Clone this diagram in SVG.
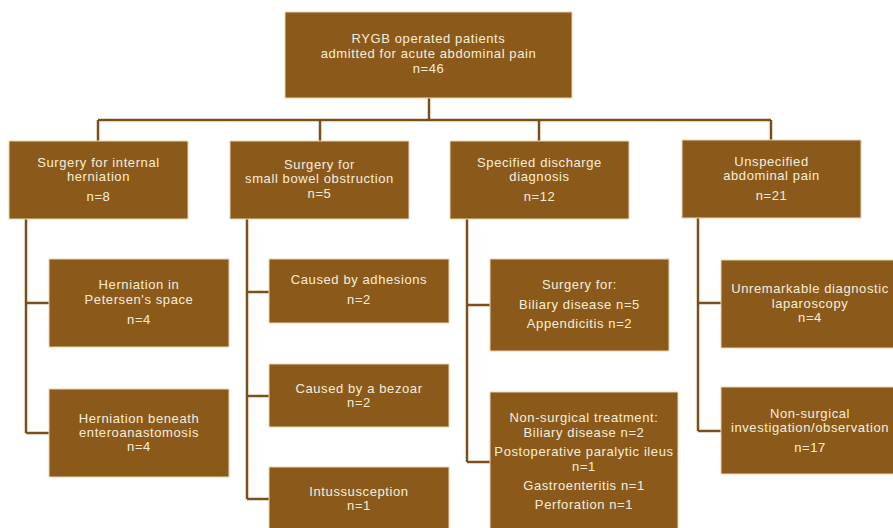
<svg xmlns="http://www.w3.org/2000/svg" width="893" height="528" viewBox="0 0 893 528">
<style>
.box{fill:#8b5a1a;stroke:#e6d6b4;stroke-width:1}
.t{font-family:"Liberation Sans",Arial,sans-serif;font-size:13px;letter-spacing:0.6px;fill:#f6eedc;text-anchor:middle}
.c{fill:none;stroke:#7b4f18;stroke-width:2.5}
</style>
<rect width="893" height="528" fill="#ffffff"/>
<g id="connectors">
<path class="c" d="M429 98V120M98 120H771M98 120V141M320 120V141M539 120V141M771 120V140"/>
<path class="c" d="M26 219V433M26 303H49M26 433H49"/>
<path class="c" d="M247 219V499M247 292H269M247 396H269M247 499H269"/>
<path class="c" d="M467 219V462M467 305H490M467 462H490"/>
<path class="c" d="M698 218V431M698 303H721M698 431H721"/>
</g>
<g id="root">
<rect class="box" x="285" y="12" width="287" height="86"/>
<text class="t" x="428.5" y="43">RYGB operated patients</text>
<text class="t" x="428.5" y="58">admitted for acute abdominal pain</text>
<text class="t" x="428.5" y="73">n=46</text>
</g>
<g id="internal-herniation">
<rect class="box" x="9" y="141" width="179" height="78"/>
<text class="t" x="98.5" y="167">Surgery for internal</text>
<text class="t" x="98.5" y="181">herniation</text>
<text class="t" x="98.5" y="201">n=8</text>
</g>
<g id="sbo">
<rect class="box" x="230" y="141" width="179" height="78"/>
<text class="t" x="319.5" y="169">Surgery for</text>
<text class="t" x="319.5" y="183">small bowel obstruction</text>
<text class="t" x="319.5" y="198">n=5</text>
</g>
<g id="specified">
<rect class="box" x="450" y="141" width="179" height="78"/>
<text class="t" x="539.5" y="167">Specified discharge</text>
<text class="t" x="539.5" y="181">diagnosis</text>
<text class="t" x="539.5" y="201">n=12</text>
</g>
<g id="unspecified">
<rect class="box" x="682" y="140" width="179" height="78"/>
<text class="t" x="771.5" y="166">Unspecified</text>
<text class="t" x="771.5" y="180">abdominal pain</text>
<text class="t" x="771.5" y="200">n=21</text>
</g>
<g id="petersen">
<rect class="box" x="49" y="259" width="180" height="88"/>
<text class="t" x="139" y="289">Herniation in</text>
<text class="t" x="139" y="304">Petersen's space</text>
<text class="t" x="139" y="324">n=4</text>
</g>
<g id="enteroanastomosis">
<rect class="box" x="49" y="389" width="180" height="88"/>
<text class="t" x="139" y="423">Herniation beneath</text>
<text class="t" x="139" y="437">enteroanastomosis</text>
<text class="t" x="139" y="451">n=4</text>
</g>
<g id="adhesions">
<rect class="box" x="269" y="259" width="180" height="64"/>
<text class="t" x="359" y="284">Caused by adhesions</text>
<text class="t" x="359" y="304">n=2</text>
</g>
<g id="bezoar">
<rect class="box" x="269" y="364" width="180" height="63"/>
<text class="t" x="359" y="393">Caused by a bezoar</text>
<text class="t" x="359" y="407">n=2</text>
</g>
<g id="intussusception">
<rect class="box" x="269" y="467" width="180" height="70"/>
<text class="t" x="359" y="496">Intussusception</text>
<text class="t" x="359" y="510">n=1</text>
</g>
<g id="surgery-for">
<rect class="box" x="490" y="259" width="179" height="92"/>
<text class="t" x="579.5" y="289">Surgery for:</text>
<text class="t" x="579.5" y="309">Biliary disease n=5</text>
<text class="t" x="579.5" y="328">Appendicitis n=2</text>
</g>
<g id="non-surgical-treatment">
<rect class="box" x="490" y="392" width="188" height="145"/>
<text class="t" x="584" y="422">Non-surgical treatment:</text>
<text class="t" x="584" y="437">Biliary disease n=2</text>
<text class="t" x="584" y="456">Postoperative paralytic ileus</text>
<text class="t" x="584" y="471">n=1</text>
<text class="t" x="584" y="490">Gastroenteritis n=1</text>
<text class="t" x="584" y="509">Perforation n=1</text>
</g>
<g id="laparoscopy">
<rect class="box" x="721" y="260" width="180" height="88"/>
<text class="t" x="810" y="293">Unremarkable diagnostic</text>
<text class="t" x="810" y="308">laparoscopy</text>
<text class="t" x="810" y="322">n=4</text>
</g>
<g id="observation">
<rect class="box" x="721" y="387" width="180" height="87"/>
<text class="t" x="810" y="418">Non-surgical</text>
<text class="t" x="810" y="432">investigation/observation</text>
<text class="t" x="810" y="452">n=17</text>
</g>
</svg>
